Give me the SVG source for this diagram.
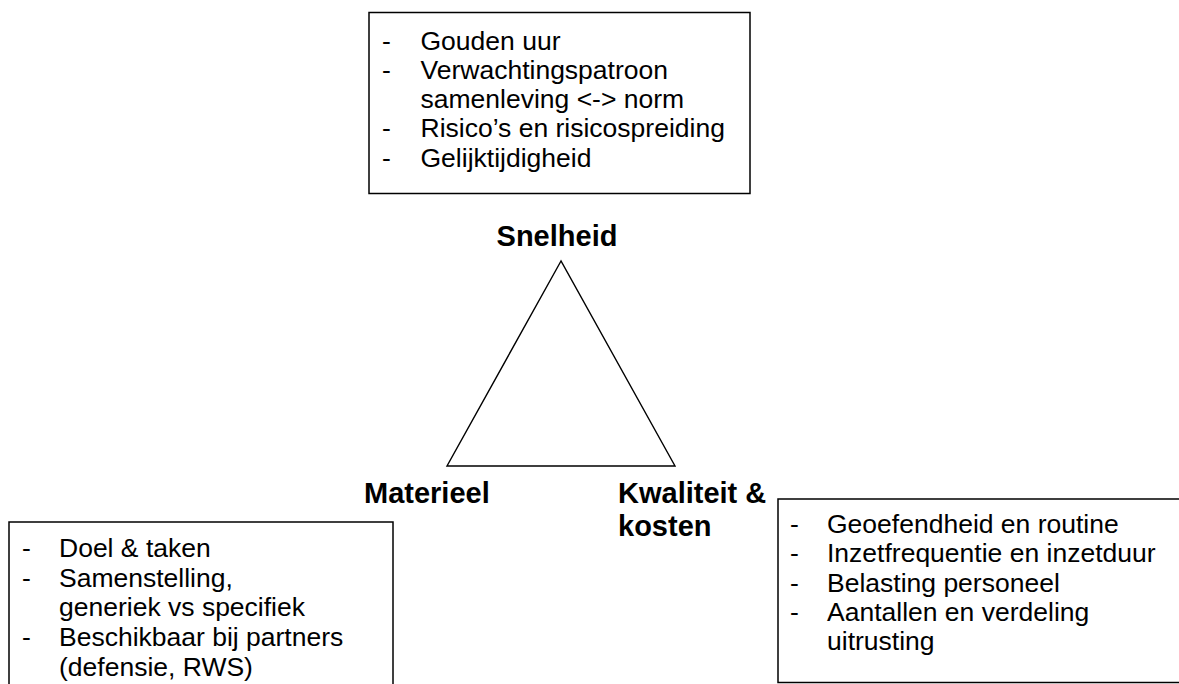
<svg xmlns="http://www.w3.org/2000/svg" width="1179" height="684" viewBox="0 0 1179 684">
<style>
.box{fill:#fff;stroke:#000;stroke-width:1.5}
.t{font-family:"Liberation Sans",Arial,sans-serif;font-size:26.5px;fill:#000}
.b{font-family:"Liberation Sans",Arial,sans-serif;font-size:29px;font-weight:bold;fill:#000}
.tri{fill:none;stroke:#000;stroke-width:1.4}
</style>
<rect x="0" y="0" width="1179" height="684" fill="#fff"/>
<g id="top-box">
<rect class="box" x="369" y="12.5" width="381" height="181"/>
<text class="t" x="382" y="49.5">-</text><text class="t" x="420.5" y="49.5">Gouden uur</text>
<text class="t" x="382" y="78.5">-</text><text class="t" x="420.5" y="78.5">Verwachtingspatroon</text>
<text class="t" x="420.5" y="107.5">samenleving &lt;-&gt; norm</text>
<text class="t" x="382" y="137">-</text><text class="t" x="420.5" y="137">Risico’s en risicospreiding</text>
<text class="t" x="382" y="166.5">-</text><text class="t" x="420.5" y="166.5">Gelijktijdigheid</text>
</g>
<g id="triangle">
<polygon class="tri" points="561,261 447,466 675,466"/>
</g>
<g id="snelheid"><text class="b" x="557" y="246" text-anchor="middle">Snelheid</text></g>
<g id="materieel"><text class="b" x="364" y="503">Materieel</text></g>
<g id="kwaliteit"><text class="b" x="618" y="503">Kwaliteit &amp;</text><text class="b" x="618" y="536">kosten</text></g>
<g id="left-box">
<rect class="box" x="9" y="522" width="384" height="180"/>
<text class="t" x="22" y="557">-</text><text class="t" x="59" y="557">Doel &amp; taken</text>
<text class="t" x="22" y="587">-</text><text class="t" x="59" y="587">Samenstelling,</text>
<text class="t" x="59" y="616">generiek vs specifiek</text>
<text class="t" x="22" y="646">-</text><text class="t" x="59" y="646">Beschikbaar bij partners</text>
<text class="t" x="59" y="676">(defensie, RWS)</text>
</g>
<g id="right-box">
<rect class="box" x="778" y="499" width="420" height="183.5"/>
<text class="t" x="790" y="533">-</text><text class="t" x="827" y="533">Geoefendheid en routine</text>
<text class="t" x="790" y="562">-</text><text class="t" x="827" y="562">Inzetfrequentie en inzetduur</text>
<text class="t" x="790" y="592">-</text><text class="t" x="827" y="592">Belasting personeel</text>
<text class="t" x="790" y="621">-</text><text class="t" x="827" y="621">Aantallen en verdeling</text>
<text class="t" x="827" y="650">uitrusting</text>
</g>
<g id="connectors"></g>
</svg>
